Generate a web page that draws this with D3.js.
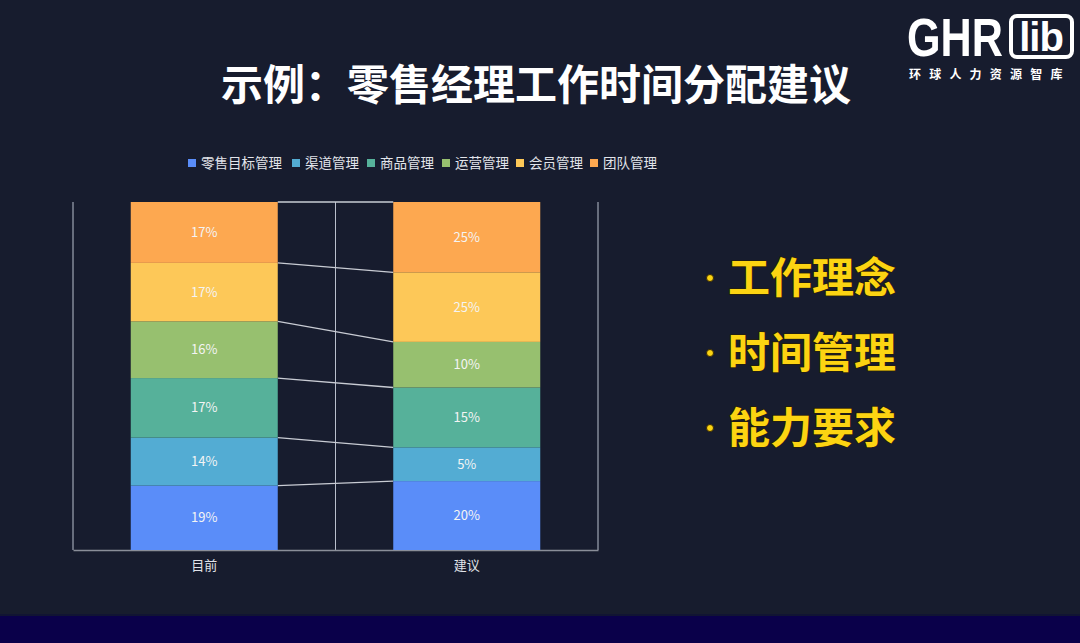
<!DOCTYPE html>
<html><head><meta charset="utf-8">
<script src="https://cdn.jsdelivr.net/npm/d3@7/dist/d3.min.js"></script>
<style>
html,body{margin:0;padding:0;background:#171c2e;}
svg{display:block;font-family:"Noto Sans CJK SC","Noto Sans",sans-serif;}
</style></head>
<body>
<svg id="c" width="1080" height="643"></svg>
<script>
// ---- data ----
const categories = ["目前", "建议"];
const seriesNames = ["零售目标管理", "渠道管理", "商品管理", "运营管理", "会员管理", "团队管理"];
const seriesColors = ["#5a8df9", "#53acd3", "#56b19a", "#97c06f", "#fdc858", "#fda850"];
// segment heights as drawn (share of 100)
const valuesNow = [18.5, 13.8, 17.1, 16.3, 16.8, 17.5];
const valuesAdvice = [19.8, 9.7, 17.2, 13.1, 20.0, 20.2];
// labels as printed on the segments
const labelsNow = ["19%", "14%", "17%", "16%", "17%", "17%"];
const labelsAdvice = ["20%", "5%", "15%", "10%", "25%", "25%"];
const bullets = ["工作理念", "时间管理", "能力要求"];
const titleText = "示例：零售经理工作时间分配建议";

const svg = d3.select("#c");
// bottom strip
svg.append("rect").attr("x",0).attr("y",616).attr("width",1080).attr("height",27).attr("fill","#0a004a");
svg.append("rect").attr("x",0).attr("y",614).attr("width",1080).attr("height",2).attr("fill","#111433");

// title
svg.append("text").attr("x",536).attr("y",100).attr("text-anchor","middle")
  .attr("fill","#ffffff").attr("font-size",42).attr("font-weight","bold").text(titleText);

// logo
const logo = svg.append("g");
logo.append("g").attr("transform","translate(907,56) scale(0.8,1)")
  .append("text").attr("x",0).attr("y",0).attr("fill","#fff").attr("font-size",54)
  .attr("font-weight","bold").attr("font-family","Liberation Sans, Arial, sans-serif")
  .text("GHR");
logo.append("rect").attr("x",1011).attr("y",16).attr("width",61).attr("height",41).attr("rx",6)
  .attr("fill","none").attr("stroke","#fff").attr("stroke-width",4);
logo.append("text").attr("x",1041).attr("y",51).attr("text-anchor","middle").attr("fill","#fff")
  .attr("font-size",40).attr("font-weight","bold").attr("font-family","Liberation Sans, Arial, sans-serif")
  .attr("letter-spacing",-1).text("lib");
logo.append("text").attr("x",909).attr("y",79).attr("fill","#fff").attr("font-size",12)
  .attr("font-weight","bold").attr("letter-spacing",8.2).text("环球人力资源智库");

// chart
const rows = categories.map((c,i)=>{
  const r = {cat:c};
  seriesNames.forEach((s,j)=>{ r[s] = (i===0?valuesNow:valuesAdvice)[j]; });
  return r;
});
const labels = [labelsNow, labelsAdvice];
const x = d3.scaleBand().domain(categories).range([73,598]).padding(0);
const y = d3.scaleLinear().domain([0,100]).range([550,202]);
const barW = x.bandwidth()*0.56;
const bx = c => x(c) + (x.bandwidth()-barW)/2;

// vertical split lines
const splits = categories.map(c=>x(c)).concat([x.range()[1]]);
svg.append("g").selectAll("line").data(splits).join("line")
  .attr("x1",d=>d).attr("x2",d=>d).attr("y1",y(100)).attr("y2",y(0))
  .attr("stroke","#b9bfcc").attr("stroke-width",1);

const stack = d3.stack().keys(seriesNames)(rows);

// connecting lines (top of each stacked segment)
svg.append("g").selectAll("line").data(stack).join("line")
  .attr("x1",bx(categories[0])+barW).attr("x2",bx(categories[1]))
  .attr("y1",d=>y(d[0][1])).attr("y2",d=>y(d[1][1]))
  .attr("stroke","#c9ccd4").attr("stroke-width",1.3);

// x axis
const xAxis = svg.append("g").attr("transform",`translate(0,${y(0)})`)
  .call(d3.axisBottom(x).tickSize(0).tickPadding(11));
xAxis.select(".domain").attr("stroke","#8a8e99").attr("stroke-width",1.5);
xAxis.selectAll("text").attr("fill","#e0e2e8").attr("font-size",13)
  .attr("font-family","Noto Sans CJK SC");

// bars
const gBars = svg.append("g");
stack.forEach((s,j)=>{
  gBars.selectAll(null).data(s).join("rect")
    .attr("x",d=>bx(d.data.cat)).attr("width",barW)
    .attr("y",d=>y(d[1])).attr("height",d=>y(d[0])-y(d[1]))
    .attr("fill",seriesColors[j]);
  gBars.selectAll(null).data(s).join("text")
    .attr("x",d=>bx(d.data.cat)+barW/2).attr("y",d=>(y(d[0])+y(d[1]))/2+4.5)
    .attr("text-anchor","middle").attr("fill","#f4f4f4").attr("font-size",13)
    .text((d,i)=>labels[i][j]);
});

// legend
const legendX = [188, 292, 367, 442, 516, 590];
const lg = svg.append("g");
seriesNames.forEach((s,j)=>{
  lg.append("rect").attr("x",legendX[j]).attr("y",159).attr("width",8).attr("height",8).attr("fill",seriesColors[j]);
  lg.append("text").attr("x",legendX[j]+13).attr("y",168).attr("fill","#e2e4ea").attr("font-size",13.5).text(s);
});

// bullets
const bg = svg.append("g");
bullets.forEach((b,i)=>{
  const yy = 293 + i*75;
  bg.append("circle").attr("cx",710).attr("cy",yy-15).attr("r",3.5).attr("fill","#fcd412")
    .attr("stroke","#3a2a00").attr("stroke-width",1);
  bg.append("text").attr("x",728).attr("y",yy).attr("fill","#fcd412").attr("font-size",42)
    .attr("font-weight","bold").attr("stroke","#2a2000").attr("stroke-width",1.2)
    .attr("paint-order","stroke").text(b);
});
</script>
</body></html>
